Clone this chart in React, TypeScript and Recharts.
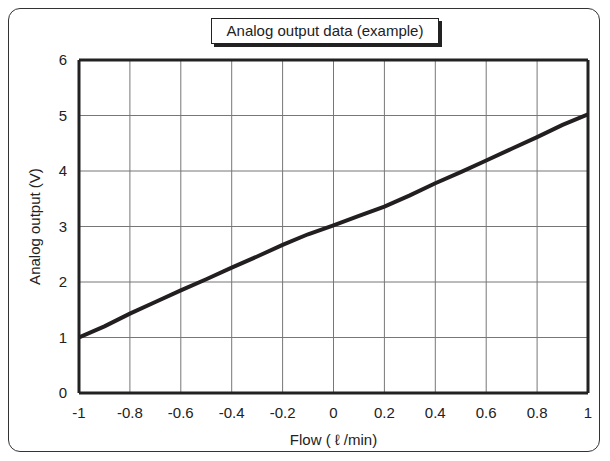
import React from "react";
import { LineChart, Line, XAxis, YAxis, CartesianGrid, ReferenceLine, Label } from "recharts";

const flow = [-1, -0.9, -0.8, -0.7, -0.6, -0.5, -0.4, -0.3, -0.2, -0.1, 0, 0.1, 0.2, 0.3, 0.4, 0.5, 0.6, 0.7, 0.8, 0.9, 1];
const output = [1.0, 1.2, 1.43, 1.64, 1.85, 2.05, 2.26, 2.46, 2.67, 2.86, 3.02, 3.19, 3.36, 3.56, 3.78, 3.98, 4.19, 4.4, 4.61, 4.83, 5.02];
const xTicks = [-1, -0.8, -0.6, -0.4, -0.2, 0, 0.2, 0.4, 0.6, 0.8, 1];
const yTicks = [0, 1, 2, 3, 4, 5, 6];
const title = "Analog output data (example)";
const xLabel = "Flow ( \u2113 /min)";
const yLabel = "Analog output (V)";

const data = flow.map((f, i) => ({ flow: f, output: output[i] }));

const FONT = "'Liberation Sans', Arial, Helvetica, sans-serif";

export default function App() {
  return (
    <div style={{ position: "absolute", left: 0, top: 0, width: 610, height: 461, background: "#fff", fontFamily: FONT }}>
      <div
        style={{
          position: "absolute",
          left: 8,
          top: 8,
          width: 592,
          height: 444,
          border: "1px solid #333",
          borderRadius: 12,
          boxSizing: "border-box",
        }}
      />
      <LineChart
        width={610}
        height={461}
        data={data}
        margin={{ top: 60, right: 22, bottom: 38, left: 49 }}
        style={{ position: "absolute", left: 0, top: 0 }}
      >
        <CartesianGrid stroke="#777" strokeWidth={1} horizontalValues={yTicks} verticalValues={xTicks} />
        <XAxis
          dataKey="flow"
          type="number"
          domain={[-1, 1]}
          ticks={xTicks}
          tickLine={false}
          axisLine={false}
          height={30}
          tick={{ fill: "#222", fontSize: 15, fontFamily: FONT }}
          tickMargin={8}
          allowDataOverflow
        >
          <Label value={xLabel} position="insideBottom" offset={-22} style={{ fill: "#222", fontSize: 15, fontFamily: FONT }} />
        </XAxis>
        <YAxis
          type="number"
          domain={[0, 6]}
          ticks={yTicks}
          tickLine={false}
          axisLine={false}
          width={30}
          tick={{ fill: "#222", fontSize: 15, fontFamily: FONT }}
          tickMargin={6}
        >
          <Label value={yLabel} angle={-90} position="insideLeft" offset={-14} style={{ textAnchor: "middle", fill: "#222", fontSize: 15, fontFamily: FONT }} />
        </YAxis>
        <ReferenceLine x={-1} stroke="#222" strokeWidth={3} />
        <ReferenceLine x={1} stroke="#222" strokeWidth={3} />
        <ReferenceLine y={0} stroke="#222" strokeWidth={3} />
        <ReferenceLine y={6} stroke="#222" strokeWidth={3} />
        <Line
          type="linear"
          dataKey="output"
          stroke="#231f20"
          strokeWidth={4}
          dot={false}
          isAnimationActive={false}
        />
      </LineChart>
      <div
        style={{
          position: "absolute",
          left: 211,
          top: 18,
          width: 228,
          height: 26,
          border: "1px solid #222",
          background: "#fff",
          boxShadow: "3px 3px 0 #222",
          boxSizing: "border-box",
          textAlign: "center",
          fontSize: 15,
          lineHeight: "24px",
          color: "#222",
        }}
      >
        {title}
      </div>
    </div>
  );
}
